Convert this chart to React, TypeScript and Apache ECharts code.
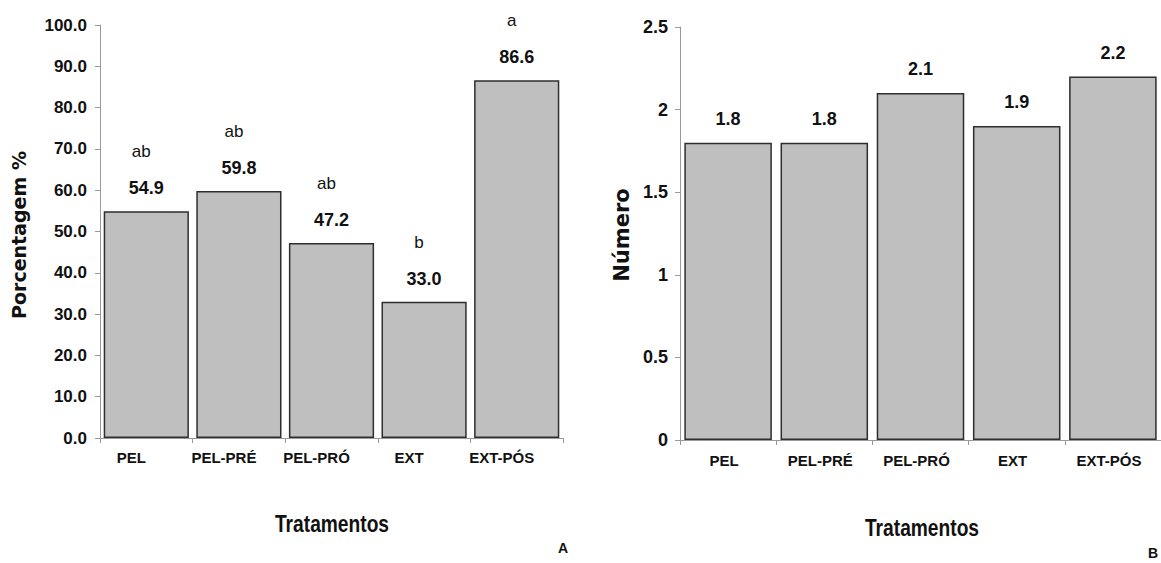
import React, { useEffect, useRef } from "react";
import * as echarts from "echarts";

const categories = ["PEL", "PEL-PRÉ", "PEL-PRÓ", "EXT", "EXT-PÓS"];
const percentValues = [54.9, 59.8, 47.2, 33.0, 86.6];
const percentLetters = ["ab", "ab", "ab", "b", "a"];
const numberValues = [1.8, 1.8, 2.1, 1.9, 2.2];

const SANS = "'Liberation Sans', Arial, sans-serif";
const WIDE = "'DejaVu Sans', 'Liberation Sans', sans-serif";

export default function App() {
  const ref = useRef<HTMLDivElement>(null);
  useEffect(() => {
    document.body.style.margin = "0";
    const chart = echarts.init(ref.current!, null, { renderer: "svg" });
    const axisLineStyle = { color: "#9a9a9a", width: 1 };
    const barItem = { color: "#bfbfbf", borderColor: "#2e2e2e", borderWidth: 1.5 };
    const option: any = {
      animation: false,
      backgroundColor: "#ffffff",
      grid: [
        { left: 100, top: 25, width: 463, height: 413 },
        { left: 680, top: 27, width: 484, height: 413 },
      ],
      xAxis: [0, 1].map((i) => ({
        type: "category",
        gridIndex: i,
        data: categories,
        boundaryGap: true,
        axisLine: { show: true, lineStyle: axisLineStyle },
        axisTick: { show: true, length: 5, lineStyle: axisLineStyle },
        axisLabel: {
          interval: 0,
          margin: i === 0 ? 12 : 13,
          color: "#111",
          fontFamily: SANS,
          fontWeight: "bold",
          fontSize: 15,
          padding: i === 0 ? [0, 30, 0, 0] : [0, 8, 0, 0],
        },
        splitLine: { show: false },
      })),
      yAxis: [
        {
          type: "value",
          gridIndex: 0,
          min: 0,
          max: 100,
          interval: 10,
          axisLine: { show: true, lineStyle: axisLineStyle },
          axisTick: { show: true, length: 5, lineStyle: axisLineStyle },
          axisLabel: {
            margin: 13,
            color: "#111",
            fontFamily: SANS,
            fontWeight: "bold",
            fontSize: 17,
            formatter: (v: number) => v.toFixed(1),
          },
          splitLine: { show: false },
        },
        {
          type: "value",
          gridIndex: 1,
          min: 0,
          max: 2.5,
          interval: 0.5,
          axisLine: { show: true, lineStyle: axisLineStyle },
          axisTick: { show: true, length: 5, lineStyle: axisLineStyle },
          axisLabel: {
            margin: 12,
            color: "#111",
            fontFamily: SANS,
            fontWeight: "bold",
            fontSize: 18,
          },
          splitLine: { show: false },
        },
      ],
      series: [
        {
          type: "bar",
          xAxisIndex: 0,
          yAxisIndex: 0,
          data: percentValues,
          barCategoryGap: "8%",
          itemStyle: barItem,
          label: {
            show: true,
            position: "top",
            distance: 14,
            color: "#111",
            fontFamily: SANS,
            fontWeight: "bold",
            fontSize: 18,
            formatter: (p: any) => Number(p.value).toFixed(1),
          },
          z: 3,
        },
        {
          type: "bar",
          xAxisIndex: 0,
          yAxisIndex: 0,
          data: percentValues,
          barGap: "-100%",
          barCategoryGap: "8%",
          itemStyle: { color: "rgba(0,0,0,0)", borderWidth: 0 },
          label: {
            show: true,
            position: "top",
            distance: 51,
            offset: [-5, 0],
            color: "#111",
            fontFamily: SANS,
            fontSize: 17,
            formatter: (p: any) => percentLetters[p.dataIndex],
          },
          z: 2,
        },
        {
          type: "bar",
          xAxisIndex: 1,
          yAxisIndex: 1,
          data: numberValues,
          barCategoryGap: "9%",
          itemStyle: barItem,
          label: {
            show: true,
            position: "top",
            distance: 15,
            color: "#111",
            fontFamily: SANS,
            fontWeight: "bold",
            fontSize: 18,
            formatter: (p: any) => Number(p.value).toFixed(1),
          },
        },
      ],
      graphic: [
        {
          type: "text",
          x: 19,
          y: 235,
          rotation: Math.PI / 2,
          style: {
            text: "Porcentagem %",
            fontFamily: WIDE,
            fontWeight: "bold",
            fontSize: 19,
            fill: "#111",
            align: "center",
            verticalAlign: "middle",
          },
        },
        {
          type: "text",
          x: 622,
          y: 235,
          rotation: Math.PI / 2,
          style: {
            text: "Número",
            fontFamily: WIDE,
            fontWeight: "bold",
            fontSize: 21,
            fill: "#111",
            align: "center",
            verticalAlign: "middle",
          },
        },
        {
          type: "text",
          x: 332,
          y: 524,
          scaleX: 0.8,
          style: {
            text: "Tratamentos",
            fontFamily: SANS,
            fontWeight: "bold",
            fontSize: 24,
            fill: "#111",
            align: "center",
            verticalAlign: "middle",
          },
        },
        {
          type: "text",
          x: 922,
          y: 528,
          scaleX: 0.8,
          style: {
            text: "Tratamentos",
            fontFamily: SANS,
            fontWeight: "bold",
            fontSize: 24,
            fill: "#111",
            align: "center",
            verticalAlign: "middle",
          },
        },
        {
          type: "text",
          x: 563,
          y: 548,
          style: {
            text: "A",
            fontFamily: SANS,
            fontWeight: "bold",
            fontSize: 14,
            fill: "#111",
            align: "center",
            verticalAlign: "middle",
          },
        },
        {
          type: "text",
          x: 1153,
          y: 553,
          style: {
            text: "B",
            fontFamily: SANS,
            fontWeight: "bold",
            fontSize: 14,
            fill: "#111",
            align: "center",
            verticalAlign: "middle",
          },
        },
      ],
    };
    chart.setOption(option);
    return () => chart.dispose();
  }, []);
  return (
    <div
      ref={ref}
      style={{ position: "absolute", left: 0, top: 0, width: 1161, height: 563 }}
    />
  );
}
